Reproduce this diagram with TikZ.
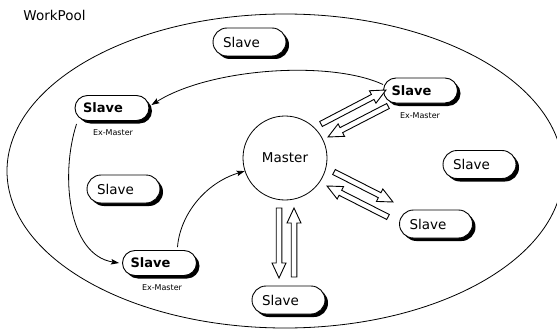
\documentclass[tikz,border=0pt]{standalone}
\usepackage{fontspec}
\setmainfont{DejaVu Sans}
\usetikzlibrary{calc,shadows,arrows.meta}
\begin{document}
\begin{tikzpicture}[x=1pt,y=-1pt,
  every node/.style={font=\fontsize{13.5}{16}\selectfont},
  plainslave/.style={draw, fill=white, line width=0.9pt, rounded corners=14pt,
    minimum height=28pt, text width=53pt, inner xsep=10pt, inner ysep=0pt, align=left,
    drop shadow={shadow xshift=3pt,shadow yshift=-3pt,fill=black,opacity=1}},
  exslave/.style={plainslave, rounded corners=12.5pt, minimum height=25pt,
    text width=58pt, inner xsep=8pt, font=\fontsize{13}{15}\selectfont\bfseries},
  exlabel/.style={font=\fontsize{8}{9}\selectfont, inner sep=0pt},
  master/.style={circle, draw, line width=0.8pt, minimum size=84pt, inner sep=0pt},
  conn/.style={-{Stealth[length=8pt,width=5.5pt,inset=1.5pt]}, line width=0.8pt},
  hollow/.style={draw, fill=white, line width=0.9pt, line join=miter, to path={
    ($(\tikztostart)!2.8pt!90:(\tikztotarget)$) --
    ($(\tikztotarget)!15pt!(\tikztostart)!2.8pt!-90:(\tikztostart)$) --
    ($(\tikztotarget)!15pt!(\tikztostart)!7pt!-90:(\tikztostart)$) --
    (\tikztotarget) --
    ($(\tikztotarget)!15pt!(\tikztostart)!7pt!90:(\tikztostart)$) --
    ($(\tikztotarget)!15pt!(\tikztostart)!2.8pt!90:(\tikztostart)$) --
    ($(\tikztostart)!2.8pt!-90:(\tikztotarget)$) -- cycle}}
]
\useasboundingbox (0,0) rectangle (557,329);
\clip (0,0) rectangle (557,329);
\fill[white] (0,0) rectangle (557,329);

% pool
\draw[line width=0.8pt] (285,171) ellipse [x radius=278, y radius=157];
\node (wp) at (54.5,15) {WorkPool};

% master
\node[master] (m) at (285,158) {Master};

% plain slaves
\node[plainslave] (s1) at (249.5,42) {Slave};
\node[plainslave] (s2) at (123.5,189) {Slave};
\node[plainslave] (s3) at (479.5,164.5) {Slave};
\node[plainslave] (s4) at (436,224) {Slave};
\node[plainslave] (s5) at (288.5,300) {Slave};

% ex-master slaves
\node[exslave] (exl) at (112,108) {Slave};
\node[exslave] (exr) at (420.5,90.5) {Slave};
\node[exslave] (exb) at (159.5,263) {Slave};
\node[exlabel] (lexl) at (113,133) {Ex-Master};
\node[exlabel] (lexr) at (420,116) {Ex-Master};
\node[exlabel] (lexb) at (162,288) {Ex-Master};

% curved connectors
\draw[conn] ([yshift=6pt]exr.west) .. controls (330,60) and (210,68) .. ([xshift=2pt,yshift=3pt]exl.east);
\draw[conn] ([shift={(2pt,-3pt)}]exl.south west) .. controls (60,175) and (68,255) .. ([xshift=-3pt]exb.west);
\draw[conn] ([shift={(18pt,3pt)}]exb.north) .. controls (180,215) and (205,183) .. (m.198);

% hollow arrows
\coordinate (a1s) at (321,124); \coordinate (a1e) at (386,90);
\coordinate (a2s) at (388,106); \coordinate (a2e) at (328,137);
\coordinate (b1s) at (334,172); \coordinate (b1e) at (393,202);
\coordinate (b2s) at (388,217); \coordinate (b2e) at (327,186);
\coordinate (c1s) at (279,208); \coordinate (c1e) at (279,278);
\coordinate (c2s) at (294,277); \coordinate (c2e) at (294,208);
\draw[hollow] (a1s) to (a1e);
\draw[hollow] (a2s) to (a2e);
\draw[hollow] (b1s) to (b1e);
\draw[hollow] (b2s) to (b2e);
\draw[hollow] (c1s) to (c1e);
\draw[hollow] (c2s) to (c2e);
\end{tikzpicture}
\end{document}
